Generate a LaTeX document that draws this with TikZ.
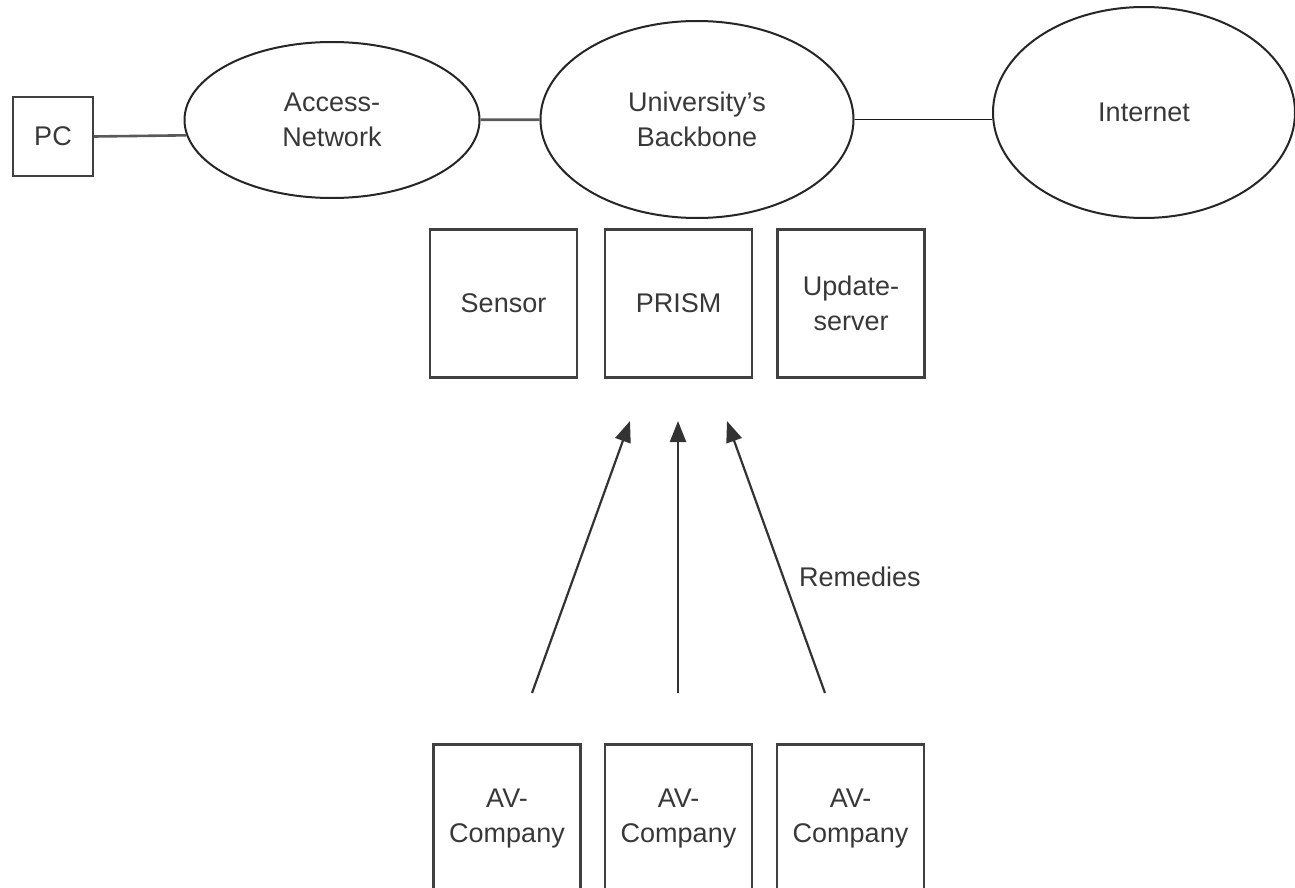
\documentclass[tikz,border=0pt]{standalone}
\usepackage{fontspec}
\setmainfont{Liberation Sans}
\usetikzlibrary{shapes.geometric,arrows.meta}

\begin{document}
\begin{tikzpicture}[x=1pt,y=-1pt,
  font=\fontsize{27}{35}\selectfont,
  every node/.style={text=black!78, align=center, inner sep=0pt},
  box/.style={draw=black!75, line width=2.4pt, rectangle,
              minimum width=147pt, minimum height=148pt},
  net/.style={draw=black!85, line width=2pt, ellipse},
  link/.style={draw=black!65, line width=2.6pt},
  feed/.style={draw=black!80, line width=2.2pt,
               -{Triangle[length=21pt,width=16pt]}}]

\useasboundingbox[fill=white] (0,0) rectangle (1295,888);

% networks along the top
\node[draw=black!75, line width=2.4pt, minimum width=80pt, minimum height=79pt] (PC) at (53,136.5) {PC};
\node[net, minimum width=295pt, minimum height=156pt] (Access) at (332,120) {Access-\\Network};
\node[net, minimum width=313pt, minimum height=197pt] (Backbone) at (697,119.5) {University’s\\Backbone};
\node[net, minimum width=302pt, minimum height=211pt] (Internet) at (1144,112.5) {Internet};

\draw[link] (PC.east) -- (Access.186);
\draw[link] (Access) -- (Backbone);
\draw[draw=black!90, line width=1.8pt] (Backbone.east) -- (Backbone.east -| Internet.west);

% services attached to the backbone
\node[box] (Sensor) at (503.5,303.5) {Sensor};
\node[box] (PRISM) at (678.5,303.5) {PRISM};
\node[box] (Update) at (851,303.5) {Update-\\server};

% anti-virus vendors
\node[box] (AV1) at (507,818.5) {AV-\\Company};
\node[box] (AV2) at (678.5,818.5) {AV-\\Company};
\node[box] (AV3) at (850.5,818.5) {AV-\\Company};

% remedy feeds
\coordinate (f1) at (532,693);
\coordinate (f2) at (678,693);
\coordinate (f3) at (825,693);
\coordinate (h1) at (630,421);
\coordinate (h2) at (678,421);
\coordinate (h3) at (727,421);
\draw[feed] (f1) -- (h1);
\draw[feed] (f2) -- (h2);
\draw[feed] (f3) -- (h3);

\node[anchor=west] (Remedies) at (799,577) {Remedies};
\end{tikzpicture}
\end{document}
